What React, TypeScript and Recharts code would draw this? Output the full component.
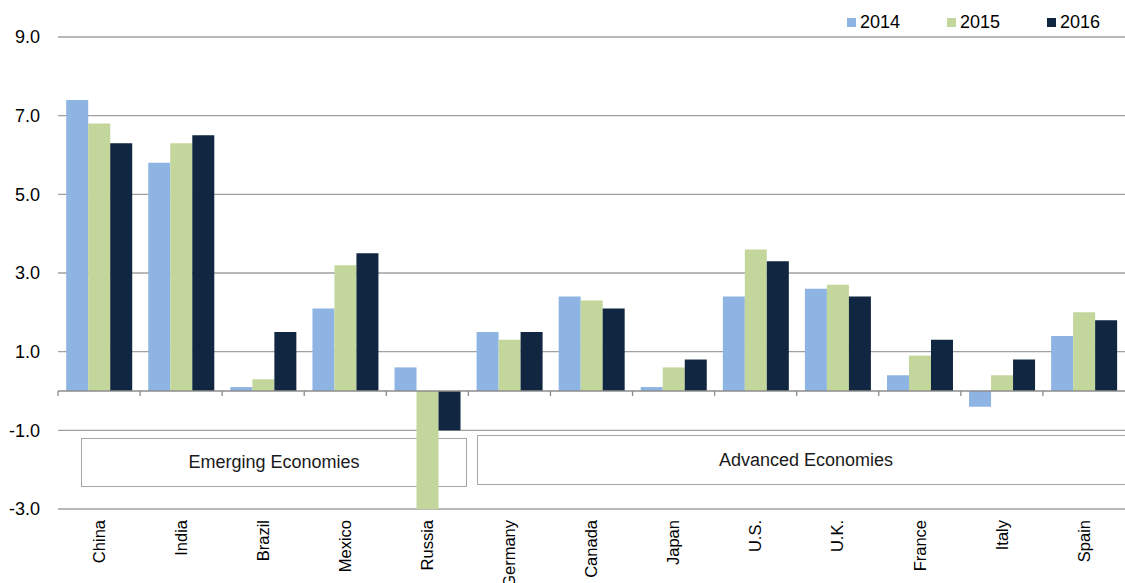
import React from "react"
import { BarChart, Bar, XAxis, YAxis, CartesianGrid, ReferenceLine } from "recharts"

const categories = ["China", "India", "Brazil", "Mexico", "Russia", "Germany", "Canada", "Japan", "U.S.", "U.K.", "France", "Italy", "Spain"]
const gdp2014 = [7.4, 5.8, 0.1, 2.1, 0.6, 1.5, 2.4, 0.1, 2.4, 2.6, 0.4, -0.4, 1.4]
const gdp2015 = [6.8, 6.3, 0.3, 3.2, -3.7, 1.3, 2.3, 0.6, 3.6, 2.7, 0.9, 0.4, 2.0]
const gdp2016 = [6.3, 6.5, 1.5, 3.5, -1.0, 1.5, 2.1, 0.8, 3.3, 2.4, 1.3, 0.8, 1.8]
const yTicks = [-3, -1, 1, 3, 5, 7, 9]

const series = [
  { key: "y2014", label: "2014", color: "#8DB4E2" },
  { key: "y2015", label: "2015", color: "#C3D69B" },
  { key: "y2016", label: "2016", color: "#112640" },
]

const data = categories.map((name, i) => ({
  name,
  y2014: gdp2014[i],
  y2015: gdp2015[i],
  y2016: gdp2016[i],
}))

const FONT = "'Liberation Sans', Arial, sans-serif"

function CategoryTick({ x, y, payload }: any) {
  return (
    <text
      x={x}
      y={y + 5}
      transform={`rotate(-90, ${x}, ${y + 5})`}
      textAnchor="end"
      dy="0.35em"
      fontSize={16.5}
      fontFamily={FONT}
      fill="#000"
    >
      {payload.value}
    </text>
  )
}

// zero line with small ticks at category boundaries
function ZeroLine({ x1, x2, y1 }: any) {
  const step = (x2 - x1) / categories.length
  return (
    <g>
      <line x1={x1} x2={x2} y1={y1} y2={y1} stroke="#8C8C8C" strokeWidth={1.3} />
      {categories.map((_, i) => (
        <line
          key={i}
          x1={x1 + step * i}
          x2={x1 + step * i}
          y1={y1}
          y2={y1 + 5}
          stroke="#8C8C8C"
          strokeWidth={1.3}
        />
      ))}
    </g>
  )
}

// grouping label boxes, drawn under the chart so the Russia bar sits on top
function GroupBox({ left, top, width, height, text, textWidth }: any) {
  return (
    <>
      <div
        style={{
          position: "absolute",
          left,
          top,
          width,
          height,
          border: "1.5px solid #A6A6A6",
          boxSizing: "border-box",
          background: "#fff",
        }}
      />
      <div
        style={{
          position: "absolute",
          left,
          top,
          width: textWidth ?? width,
          height,
          display: "flex",
          alignItems: "center",
          justifyContent: "center",
          fontFamily: FONT,
          fontSize: 18,
          color: "#1a1a1a",
        }}
      >
        {text}
      </div>
    </>
  )
}

export default function App() {
  return (
    <div style={{ position: "absolute", left: 0, top: 0, width: 1125, height: 583, background: "#fff", overflow: "hidden" }}>
      <GroupBox left={81} top={438} width={386} height={49} text="Emerging Economies" />
      <GroupBox left={477} top={435} width={700} height={50} textWidth={658} text="Advanced Economies" />

      <div style={{ position: "absolute", left: 0, top: 0, zIndex: 1 }}>
        <BarChart
          width={1125}
          height={583}
          data={data}
          margin={{ top: 37, right: 0, left: 0, bottom: 0 }}
          barCategoryGap="10%"
          barGap={0}
        >
          <CartesianGrid vertical={false} stroke="#A0A0A0" strokeWidth={1.3} />
          <XAxis
            dataKey="name"
            axisLine={false}
            tickLine={false}
            interval={0}
            height={74}
            tickMargin={0}
            tick={<CategoryTick />}
          />
          <YAxis
            width={58}
            domain={[-3, 9]}
            ticks={yTicks}
            allowDataOverflow
            axisLine={false}
            tickLine={false}
            tickMargin={12}
            tickFormatter={(v: number) => v.toFixed(1)}
            tick={{ fill: "#000", fontSize: 18, fontFamily: FONT }}
          />
          <ReferenceLine y={0} shape={<ZeroLine />} />
          {series.map((s) => (
            <Bar key={s.key} dataKey={s.key} fill={s.color} isAnimationActive={false} />
          ))}
        </BarChart>
      </div>

      <div style={{ position: "absolute", top: 12, left: 847, display: "flex", zIndex: 2, fontFamily: FONT, fontSize: 18 }}>
        {series.map((s) => (
          <div key={s.key} style={{ display: "flex", alignItems: "center", width: 100 }}>
            <span style={{ width: 9, height: 9, background: s.color, marginRight: 4, display: "inline-block" }} />
            <span>{s.label}</span>
          </div>
        ))}
      </div>
    </div>
  )
}
